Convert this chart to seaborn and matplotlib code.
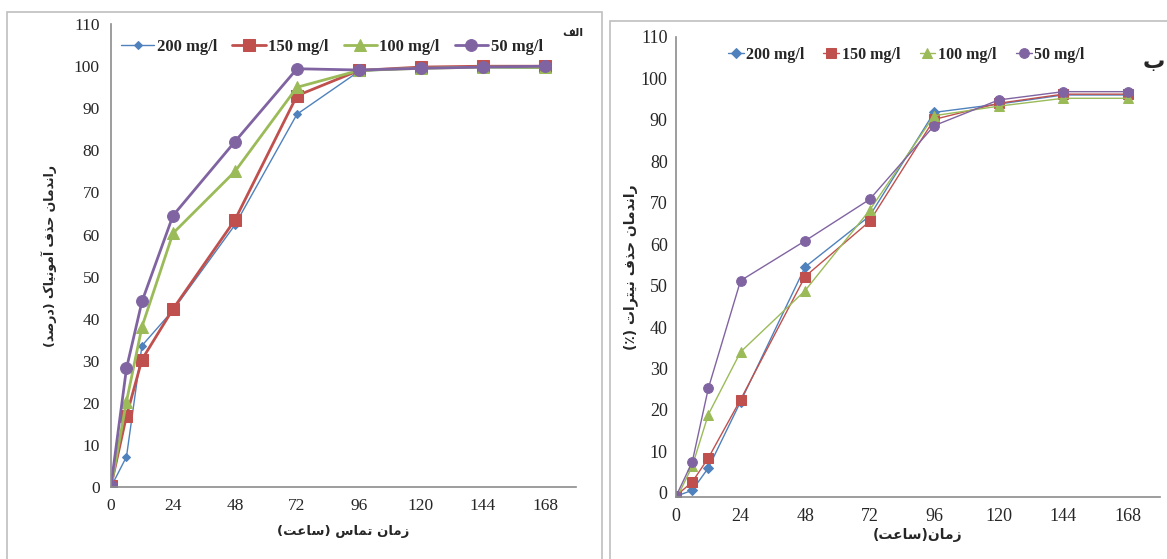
import matplotlib
matplotlib.use("Agg")
import matplotlib.pyplot as plt
import seaborn as sns
import pandas as pd
from matplotlib.patches import Rectangle

### Data
hours = [0, 6, 12, 24, 48, 72, 96, 120, 144, 168]
series = ['200 mg/l', '150 mg/l', '100 mg/l', '50 mg/l']

# panel a: ammonia removal (%)
nh3_200 = [0, 7.2, 33.6, 42.0, 62.3, 88.6, 98.8, 99.5, 99.7, 99.5]
nh3_150 = [0.3, 16.9, 30.3, 42.3, 63.5, 93.0, 99.0, 99.8, 100.0, 100.0]
nh3_100 = [0, 20.3, 38.1, 60.3, 75.0, 95.0, 99.0, 99.5, 99.8, 99.7]
nh3_50 = [0.3, 28.2, 44.1, 64.5, 82.1, 99.4, 99.1, 99.5, 99.8, 100.0]

# panel b: nitrate removal (%)
no3_200 = [-0.8, 0.6, 6.0, 22.0, 54.5, 66.8, 91.8, 93.8, 96.0, 96.0]
no3_150 = [-0.7, 2.6, 8.4, 22.5, 52.2, 65.5, 90.1, 94.0, 96.2, 96.2]
no3_100 = [-1.6, 6.4, 18.9, 34.0, 48.8, 68.2, 91.0, 93.3, 95.2, 95.2]
no3_50 = [-0.8, 7.4, 25.2, 51.2, 60.8, 70.8, 88.6, 94.8, 96.8, 96.8]

colors = ['#4F81BD', '#C0504D', '#9BBB59', '#8064A2']
marks = ['D', 's', '^', 'o']

ylabel_a = 'راندمان حذف آمونیاک (درصد)'
ylabel_b = 'راندمان حذف نیترات (٪)'
xlabel_a = 'زمان تماس (ساعت)'
xlabel_b = 'زمان(ساعت)'
tag_a = 'الف'
tag_b = 'ب'


### tiny arabic shaper (matplotlib has no shaping / bidi)
FORMS = {
    'ا': (0xFE8D, 0xFE8E, None, None), 'آ': (0xFE81, 0xFE82, None, None),
    'د': (0xFEA9, 0xFEAA, None, None), 'ذ': (0xFEAB, 0xFEAC, None, None),
    'ر': (0xFEAD, 0xFEAE, None, None), 'ز': (0xFEAF, 0xFEB0, None, None),
    'و': (0xFEED, 0xFEEE, None, None),
    'ب': (0xFE8F, 0xFE90, 0xFE91, 0xFE92), 'ت': (0xFE95, 0xFE96, 0xFE97, 0xFE98),
    'ح': (0xFEA1, 0xFEA2, 0xFEA3, 0xFEA4), 'س': (0xFEB1, 0xFEB2, 0xFEB3, 0xFEB4),
    'ص': (0xFEB9, 0xFEBA, 0xFEBB, 0xFEBC), 'ع': (0xFEC9, 0xFECA, 0xFECB, 0xFECC),
    'ف': (0xFED1, 0xFED2, 0xFED3, 0xFED4), 'ل': (0xFEDD, 0xFEDE, 0xFEDF, 0xFEE0),
    'م': (0xFEE1, 0xFEE2, 0xFEE3, 0xFEE4), 'ن': (0xFEE5, 0xFEE6, 0xFEE7, 0xFEE8),
    'ی': (0xFBFC, 0xFBFD, 0xFBFE, 0xFBFF), 'ک': (0xFB8E, 0xFB8F, 0xFB90, 0xFB91),
}
MIRROR = {'(': ')', ')': '('}


def fa(text):
    out = []
    for i, ch in enumerate(text):
        if ch not in FORMS:
            out.append(ch)
            continue
        prev = text[i - 1] if i > 0 else ''
        nxt = text[i + 1] if i + 1 < len(text) else ''
        jp = prev in FORMS and FORMS[prev][2] is not None
        jn = FORMS[ch][2] is not None and nxt in FORMS
        iso, fin, ini, med = FORMS[ch]
        if jp and jn:
            cp = med
        elif jp:
            cp = fin
        elif jn:
            cp = ini
        else:
            cp = iso
        out.append(chr(cp))
    return ''.join(MIRROR.get(c, c) for c in reversed(out))


sns.set_theme(style='white')
plt.rcParams['font.family'] = ['Liberation Serif', 'DejaVu Serif']
AR = ['DejaVu Sans']

fig = plt.figure(figsize=(11.67, 5.59), dpi=100)
ax1 = fig.add_axes([0.0951, 0.1288, 0.3985, 0.828])
ax2 = fig.add_axes([0.5793, 0.1109, 0.4147, 0.823])

# chart frames
fig.patches.append(Rectangle((7 / 1167, -0.05), 595 / 1167, 1.05 - 12 / 559,
                             transform=fig.transFigure, fill=False,
                             edgecolor='#bfbfbf', lw=1.2))
fig.patches.append(Rectangle((610 / 1167, -0.05), 0.5, 1.05 - 21 / 559,
                             transform=fig.transFigure, fill=False,
                             edgecolor='#bfbfbf', lw=1.2))

left = [nh3_200, nh3_150, nh3_100, nh3_50]
right = [no3_200, no3_150, no3_100, no3_50]
lw_a = [1.0, 2.0, 2.0, 2.0]
ms_a = [4, 8, 8.5, 8.5]

for i in range(4):
    sns.lineplot(x=hours, y=left[i], ax=ax1, color=colors[i], marker=marks[i],
                 markersize=ms_a[i], markeredgecolor=colors[i], lw=lw_a[i],
                 label=series[i])
    sns.lineplot(x=hours, y=right[i], ax=ax2, color=colors[i], marker=marks[i],
                 markersize=7 if marks[i] != 'D' else 5.5,
                 markeredgecolor=colors[i], lw=1.0, label=series[i])

for ax in (ax1, ax2):
    ax.set_xlim(0, 180)
    ax.set_xticks(range(0, 169, 24))
    ax.set_yticks(range(0, 111, 10))
    for s in ['top', 'right']:
        ax.spines[s].set_visible(False)
    for s in ['left', 'bottom']:
        ax.spines[s].set_color('#8c8c8c')
        ax.spines[s].set_linewidth(1.2)
    ax.tick_params(length=0, pad=8)
    ax.set_facecolor('white')

ax1.set_ylim(0, 110)
ax2.set_ylim(-1, 110)
ax1.tick_params(labelsize=12.5)
ax2.tick_params(labelsize=13)
ax2.tick_params(axis='y', pad=6)

ax1.set_ylabel(fa(ylabel_a), family=AR, fontsize=9, fontweight='bold', labelpad=12)
ax1.set_xlabel(fa(xlabel_a), family=AR, fontsize=9.5, fontweight='bold', labelpad=8)
ax2.set_ylabel(fa(ylabel_b), family=AR, fontsize=10, fontweight='bold', labelpad=2)
ax2.set_xlabel(fa(xlabel_b), family=AR, fontsize=10, fontweight='bold', labelpad=2)

ax1.legend(loc='upper center', bbox_to_anchor=(0.475, 1.0), ncol=4, frameon=False,
           prop={'weight': 'bold', 'size': 12}, handlelength=2.0,
           handletextpad=0.15, columnspacing=0.9)
ax2.legend(loc='upper center', bbox_to_anchor=(0.475, 1.01), ncol=4, frameon=False,
           prop={'weight': 'bold', 'size': 11.5}, handlelength=1.0,
           handletextpad=0.15, columnspacing=1.2)

fig.text(583 / 1167, 1 - 33 / 559, fa(tag_a), family=AR, fontsize=8,
         fontweight='bold', ha='right', va='center')
fig.text(1165 / 1167, 1 - 62 / 559, fa(tag_b), family=AR, fontsize=16,
         fontweight='bold', ha='right', va='center')

plt.savefig('out.png', dpi=100)
